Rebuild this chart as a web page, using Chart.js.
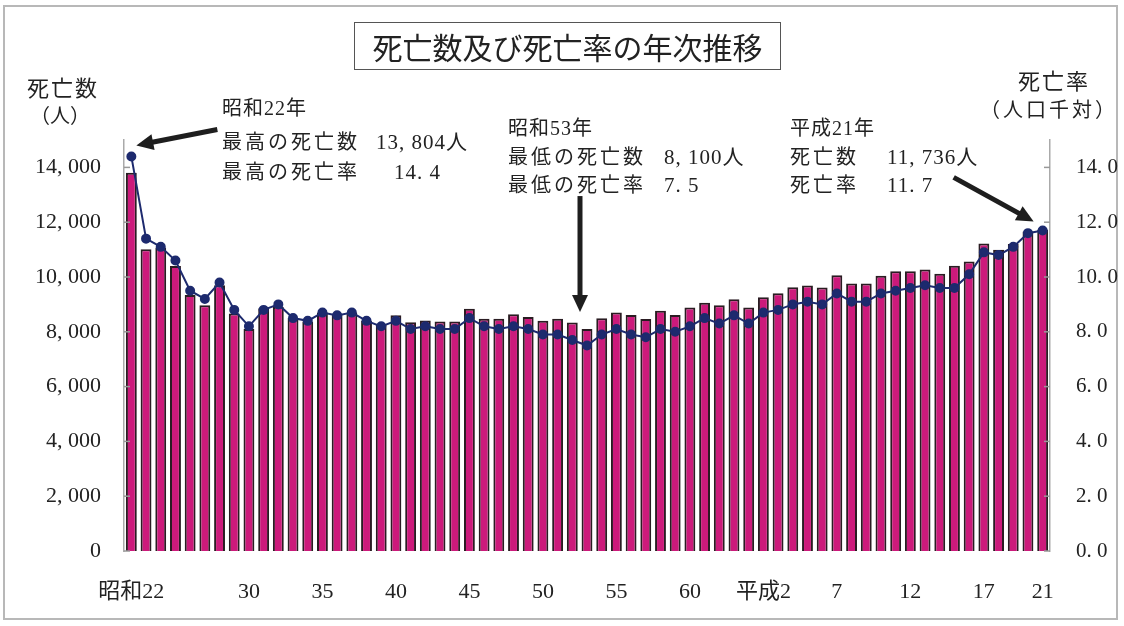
<!DOCTYPE html>
<html lang="ja">
<head>
<meta charset="UTF-8">
<title>死亡数及び死亡率の年次推移</title>
<script src="https://cdn.jsdelivr.net/npm/chart.js"></script>
<style>
  html, body { margin: 0; padding: 0; background: #fff; }
  #wrap { position: relative; width: 1124px; height: 626px; overflow: hidden;
          font-family: 'Liberation Serif', 'Noto Sans CJK JP', serif; color: #222; }
  #frame { position: absolute; left: 3px; top: 5px; width: 1111px; height: 611px; border: 2px solid #b8b8b8; }
  canvas { position: absolute; left: 0; top: 0; }
  .t { position: absolute; white-space: pre; font-size: 20px; line-height: 20px; }
  .jp { letter-spacing: 3px; }
  .num { font-size: 21px; letter-spacing: 1px; }
  #title { position: absolute; left: 354px; top: 22px; width: 425px; height: 46px; border: 1px solid #555;
           font-family: 'Noto Sans CJK JP'; font-size: 30px; line-height: 46px; text-align: center; }
</style>
</head>
<body>
<div id="wrap">
  <div id="frame"></div>
  <canvas id="chart" width="1124" height="626"></canvas>
  <div id="title">死亡数及び死亡率の年次推移</div>

  <!-- 軸タイトル -->
  <div class="t" style="left:27px; top:79px; font-size:22px; letter-spacing:2px;">死亡数</div>
  <div class="t" style="left:30px; top:106px;">（人）</div>
  <div class="t" style="left:1018px; top:72px; font-size:22px; letter-spacing:2px;">死亡率</div>
  <div class="t" style="left:980px; top:100px; letter-spacing:3px;">（人口千対）</div>

  <!-- 注記 -->
  <div class="t" style="left:222px; top:98px; letter-spacing:1px;">昭和22年</div>
  <div class="t jp" style="left:222px; top:132px;">最高の死亡数</div>
  <div class="t num" style="left:376px; top:132px;">13, 804人</div>
  <div class="t jp" style="left:222px; top:162px;">最高の死亡率</div>
  <div class="t num" style="left:394px; top:162px;">14. 4</div>

  <div class="t" style="left:508px; top:118px; letter-spacing:1px;">昭和53年</div>
  <div class="t jp" style="left:508px; top:147px;">最低の死亡数</div>
  <div class="t num" style="left:664px; top:147px;">8, 100人</div>
  <div class="t jp" style="left:508px; top:175px;">最低の死亡率</div>
  <div class="t num" style="left:664px; top:175px;">7. 5</div>

  <div class="t" style="left:790px; top:118px; letter-spacing:1px;">平成21年</div>
  <div class="t jp" style="left:790px; top:147px;">死亡数</div>
  <div class="t num" style="left:887px; top:147px;">11, 736人</div>
  <div class="t jp" style="left:790px; top:175px;">死亡率</div>
  <div class="t num" style="left:887px; top:175px;">11. 7</div>
</div>
<script>
// 年次（昭和22年〜平成21年）
const years = [
  '昭和22','23','24','25','26','27','28','29','30','31','32','33','34','35','36','37','38','39',
  '40','41','42','43','44','45','46','47','48','49','50','51','52','53','54','55','56','57','58','59',
  '60','61','62','63','平成元','平成2','3','4','5','6','7','8','9','10','11','12','13','14','15','16',
  '17','18','19','20','21'
];
const shownTicks = ['昭和22','30','35','40','45','50','55','60','平成2','7','12','17','21'];

// 死亡数（人）
const deaths = [
  13804, 11010, 11080, 10400, 9340, 8970, 9700, 8670, 8100, 8860,
  8910, 8500, 8380, 8700, 8640, 8700, 8400, 8260, 8600, 8350,
  8410, 8380, 8380, 8840, 8480, 8480, 8640, 8540, 8400, 8480,
  8340, 8100, 8490, 8700, 8610, 8470, 8770, 8610, 8890, 9060,
  8970, 9190, 8890, 9260, 9410, 9630, 9690, 9620, 10060, 9760,
  9760, 10050, 10210, 10210, 10270, 10120, 10410, 10570, 11220, 10990,
  11200, 11660, 11736
];

// 死亡率（人口千対）
const rates = [
  14.4, 11.4, 11.1, 10.6, 9.5, 9.2, 9.8, 8.8, 8.2, 8.8,
  9.0, 8.5, 8.4, 8.7, 8.6, 8.7, 8.4, 8.2, 8.4, 8.1,
  8.2, 8.1, 8.1, 8.5, 8.2, 8.1, 8.2, 8.1, 7.9, 7.9,
  7.7, 7.5, 7.9, 8.1, 7.9, 7.8, 8.1, 8.0, 8.2, 8.5,
  8.3, 8.6, 8.3, 8.7, 8.8, 9.0, 9.1, 9.0, 9.4, 9.1,
  9.1, 9.4, 9.5, 9.6, 9.7, 9.6, 9.6, 10.1, 10.9, 10.8,
  11.1, 11.6, 11.7
];

const deathTicks = [0, 2000, 4000, 6000, 8000, 10000, 12000, 14000];
const rateTicks = [0, 2, 4, 6, 8, 10, 12, 14];

Chart.defaults.font.family = "'Liberation Serif', 'Noto Sans CJK JP', serif";
Chart.defaults.color = '#222';

function drawArrow(ctx, x1, y1, x2, y2) {
  const ang = Math.atan2(y2 - y1, x2 - x1);
  const head = 17;
  ctx.save();
  ctx.strokeStyle = '#1e1e1e';
  ctx.fillStyle = '#1e1e1e';
  ctx.lineWidth = 5;
  ctx.beginPath();
  ctx.moveTo(x1, y1);
  ctx.lineTo(x2 - Math.cos(ang) * head * 0.8, y2 - Math.sin(ang) * head * 0.8);
  ctx.stroke();
  ctx.beginPath();
  ctx.moveTo(x2, y2);
  ctx.lineTo(x2 - head * Math.cos(ang) + 8 * Math.sin(ang), y2 - head * Math.sin(ang) - 8 * Math.cos(ang));
  ctx.lineTo(x2 - head * Math.cos(ang) - 8 * Math.sin(ang), y2 - head * Math.sin(ang) + 8 * Math.cos(ang));
  ctx.closePath();
  ctx.fill();
  ctx.restore();
}

// 目盛線（内向き）と矢印
const extras = {
  id: 'extras',
  afterDraw(chart) {
    const ctx = chart.ctx;
    const area = chart.chartArea;
    const yl = chart.scales.yDeath, yr = chart.scales.yRate;
    ctx.save();
    ctx.strokeStyle = '#999';
    ctx.lineWidth = 1.5;
    deathTicks.forEach(v => {
      const y = yl.getPixelForValue(v);
      ctx.beginPath(); ctx.moveTo(area.left, y); ctx.lineTo(area.left + 6, y); ctx.stroke();
    });
    rateTicks.forEach(v => {
      const y = yr.getPixelForValue(v);
      ctx.beginPath(); ctx.moveTo(area.right - 6, y); ctx.lineTo(area.right, y); ctx.stroke();
    });
    ctx.restore();

    const pts = chart.getDatasetMeta(0).data;
    const bars = chart.getDatasetMeta(1).data;
    const p0 = pts[0];
    drawArrow(ctx, p0.x + 86, p0.y - 27, p0.x + 5, p0.y - 11);
    const low = bars[31];
    drawArrow(ctx, low.x - 7, low.y - 133, low.x - 7, low.y - 17);
    const last = bars[62];
    drawArrow(ctx, last.x - 89, last.y - 52, last.x - 9, last.y - 8);
  }
};

const ctx = document.getElementById('chart').getContext('2d');
const chart = new Chart(ctx, {
  data: {
    labels: years,
    datasets: [
      {
        type: 'line',
        label: '死亡率',
        data: rates,
        yAxisID: 'yRate',
        borderColor: '#1d2a6e',
        backgroundColor: '#1d2a6e',
        borderWidth: 2,
        pointRadius: 4,
        pointHoverRadius: 4,
        tension: 0,
        order: 0
      },
      {
        type: 'bar',
        label: '死亡数',
        data: deaths,
        yAxisID: 'yDeath',
        backgroundColor: '#cc1a7b',
        borderColor: '#2a1c22',
        borderWidth: 2,
        barPercentage: 0.74,
        categoryPercentage: 1,
        order: 1
      }
    ]
  },
  options: {
    responsive: false,
    animation: false,
    layout: { padding: { top: 140, left: 0, right: 0, bottom: 0 } },
    plugins: { legend: { display: false }, tooltip: { enabled: false } },
    scales: {
      x: {
        grid: { display: false },
        border: { display: false },
        ticks: {
          autoSkip: false, maxRotation: 0, padding: 20,
          font: { size: 22 },
          callback: (v, i) => shownTicks.includes(years[i]) ? years[i] : ''
        },
        afterFit: s => { s.height = 75; }
      },
      yDeath: {
        position: 'left',
        min: 0, max: 15000,
        grid: { display: false },
        border: { display: true, color: '#aaa', width: 1.5 },
        ticks: {
          padding: 15, font: { size: 22 },
          callback: v => v.toLocaleString('en-US').replace(',', ', ')
        },
        afterBuildTicks: s => { s.ticks = deathTicks.map(v => ({ value: v })); },
        afterFit: s => { s.width = 124; }
      },
      yRate: {
        position: 'right',
        min: 0, max: 15,
        grid: { display: false },
        border: { display: true, color: '#aaa', width: 1.5 },
        ticks: {
          padding: 18, font: { size: 21 },
          callback: v => v.toFixed(1).replace('.', '. ')
        },
        afterBuildTicks: s => { s.ticks = rateTicks.map(v => ({ value: v })); },
        afterFit: s => { s.width = 74; }
      }
    }
  },
  plugins: [extras]
});
</script>
</body>
</html>
